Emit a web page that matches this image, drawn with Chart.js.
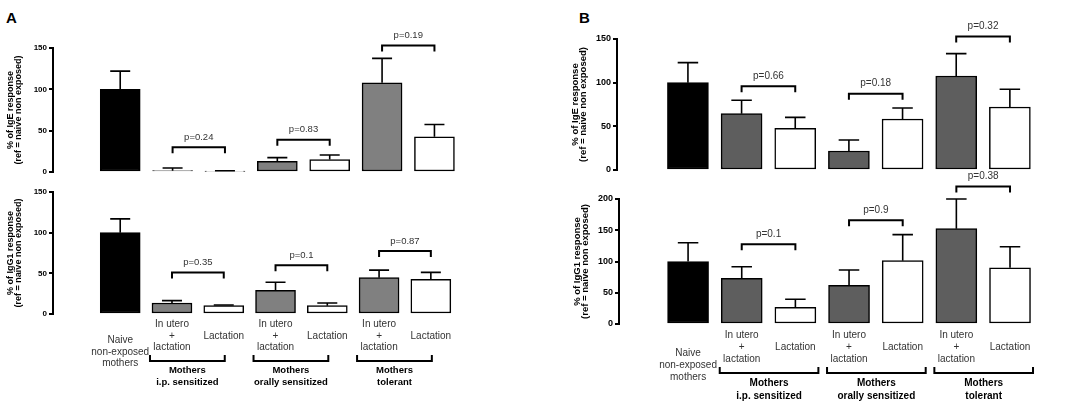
<!DOCTYPE html>
<html>
<head>
<meta charset="utf-8">
<script src="https://cdn.jsdelivr.net/npm/chart.js@4.4.1/dist/chart.umd.min.js"></script>
<style>
body{margin:0;background:#fff;width:1084px;height:408px;position:relative;overflow:hidden;font-family:"Liberation Sans",Arial,sans-serif}
canvas{position:absolute}
.tag{position:absolute;font-weight:bold;font-size:15px;line-height:1}
</style>
</head>
<body>
<div class="tag" style="left:6px;top:10px">A</div>
<div class="tag" style="left:579px;top:10px">B</div>
<canvas id="aIgE" width="540" height="180" style="left:0;top:0"></canvas>
<canvas id="aIgG1" width="540" height="228" style="left:0;top:180px"></canvas>
<canvas id="bIgE" width="544" height="180" style="left:540px;top:0"></canvas>
<canvas id="bIgG1" width="544" height="248" style="left:540px;top:160px"></canvas>
<script>
// groups on the x axis
const categories = ["Naive non-exposed mothers","In utero + lactation","Lactation","In utero + lactation","Lactation","In utero + lactation","Lactation"];
const xLabels = [["Naive","non-exposed","mothers"],["In utero","+","lactation"],["Lactation"],["In utero","+","lactation"],["Lactation"],["In utero","+","lactation"],["Lactation"]];
const groupLabels = [["Mothers","i.p. sensitized"],["Mothers","orally sensitized"],["Mothers","tolerant"]];
const pairs = [[1,2],[3,4],[5,6]];
const yTicksA = [0,50,100,150];
const yTicksB = [0,50,100,150,200];

// panel A - IgE (mean and SEM, % of naive)
const aIgE = [100, 1.6, 0.8, 12.9, 15, 108, 42.5];
const aIgESem = [22, 3.3, 0.8, 4.5, 5.6, 29.5, 15];
const aIgEP = ["p=0.24","p=0.83","p=0.19"];
const aIgEPLevel = [30, 39, 153];

// panel A - IgG1
const aIgG1 = [100, 13.5, 10.2, 29, 10.2, 44.7, 42.6];
const aIgG1Sem = [17, 3, 0.8, 10, 3.3, 9.3, 8.6];
const aIgG1P = ["p=0.35","p=0.1","p=0.87"];
const aIgG1PLevel = [51, 60, 77.5];

// panel B - IgE
const bIgE = [100, 64.5, 47.7, 21.8, 58.4, 107.6, 72.1];
const bIgESem = [23, 15.3, 12.6, 12.6, 12.6, 25.6, 20.3];
const bIgEP = ["p=0.66","p=0.18","p=0.32"];
const bIgEPLevel = [96, 87.4, 153];

// panel B - IgG1
const bIgG1 = [100, 73, 26.7, 61.9, 101.3, 152.5, 90];
const bIgG1Sem = [30, 18.7, 12.8, 24.5, 41.7, 47.5, 33.7];
const bIgG1P = ["p=0.1","p=0.9","p=0.38"];
const bIgG1PLevel = [127.5, 166, 220];

const yTitleIgE = ["% of IgE response","(ref = naive non exposed)"];
const yTitleIgG1 = ["% of IgG1 response","(ref = naive non exposed)"];

function panel(id, values, sem, pText, pLevel, s){
  const colors = [ "#000", s.gray, "#fff", s.gray, "#fff", s.gray, "#fff" ];

  const marks = {
    id: "marks",
    afterDatasetsDraw(chart){
      const ctx = chart.ctx, x = chart.scales.x, y = chart.scales.y;
      const bars = chart.getDatasetMeta(0).data;
      ctx.save();
      ctx.strokeStyle = "#000";
      ctx.fillStyle = "#333";

      // error bars, upper whisker only
      ctx.lineWidth = 1.6;
      sem.forEach((e,i) => {
        const b = bars[i];
        const top = y.getPixelForValue(values[i] + e);
        ctx.beginPath();
        ctx.moveTo(b.x, b.y); ctx.lineTo(b.x, top);
        ctx.moveTo(b.x - b.width/4, top); ctx.lineTo(b.x + b.width/4, top);
        ctx.stroke();
      });

      // p value brackets
      ctx.lineWidth = 2;
      ctx.font = s.pFont;
      ctx.textAlign = "center";
      ctx.textBaseline = "middle";
      pairs.forEach((p,k) => {
        const xa = x.getPixelForValue(p[0]), xb = x.getPixelForValue(p[1]);
        const yy = y.getPixelForValue(pLevel[k]);
        ctx.beginPath();
        ctx.moveTo(xa, yy + 6); ctx.lineTo(xa, yy); ctx.lineTo(xb, yy); ctx.lineTo(xb, yy + 6);
        ctx.stroke();
        ctx.fillText(pText[k], (xa + xb)/2, yy - 10);
      });

      if (s.labels) {
        // category labels under the bars
        ctx.font = s.xFont;
        ctx.fillStyle = "#333";
        xLabels.forEach((lines,i) => {
          const cy = i === 0 ? s.labelY + s.naiveDrop : s.labelY;
          const y0 = cy - (lines.length - 1) * s.lh / 2;
          lines.forEach((t,j) => ctx.fillText(t, x.getPixelForValue(i), y0 + j * s.lh));
        });
        // group brackets and group names
        ctx.font = s.gFont;
        ctx.fillStyle = "#000";
        pairs.forEach((p,k) => {
          const l = x.getPixelForValue(p[0]) + s.bl, r = x.getPixelForValue(p[1]) + s.br;
          ctx.beginPath();
          ctx.moveTo(l, s.brY - 6); ctx.lineTo(l, s.brY); ctx.lineTo(r, s.brY); ctx.lineTo(r, s.brY - 6);
          ctx.stroke();
          groupLabels[k].forEach((t,j) => ctx.fillText(t, (l + r)/2, s.gY + j * s.gLh));
        });
      }
      ctx.restore();
    }
  };

  const canvas = document.getElementById(id);
  new Chart(canvas, {
    type: "bar",
    data: {
      datasets: [{
        data: values.map((v,i) => ({x: i, y: v})),
        backgroundColor: colors,
        borderColor: "#000",
        borderWidth: 1.5,
        borderSkipped: false,
        barThickness: s.barW
      }]
    },
    options: {
      responsive: false,
      animation: false,
      layout: { padding: { top: s.top, bottom: canvas.height - s.bottom, right: canvas.width - s.right, left: 0 } },
      plugins: { legend: { display: false }, tooltip: { enabled: false } },
      scales: {
        x: { type: "linear", display: false, min: s.xmin, max: s.xmax },
        y: {
          min: 0, max: s.ymax,
          afterFit: sc => { sc.width = s.left; },
          afterBuildTicks: sc => { sc.ticks = s.ticks.map(v => ({value: v})); },
          border: { display: true, color: "#000", width: 2 },
          grid: { drawOnChartArea: false, drawTicks: true, tickLength: 4, color: "#000", lineWidth: 2 },
          ticks: { color: "#000", padding: 2, font: { family: "Liberation Sans", size: s.tickSize, weight: "bold" } },
          title: {
            display: true, text: s.title, color: "#000",
            font: { family: "Liberation Sans", size: s.titleSize, weight: "bold", lineHeight: 0.9 },
            padding: { top: s.titlePad, bottom: 0 }
          }
        }
      }
    },
    plugins: [marks]
  });
}

const styleA = { gray: "#808080", barW: 40, left: 53, right: 490, ymax: 150, ticks: yTicksA, tickSize: 8, titleSize: 9, titlePad: 6,
  pFont: "9.5px 'Liberation Sans'", xFont: "10px 'Liberation Sans'", gFont: "bold 9.5px 'Liberation Sans'" };
const styleB = { gray: "#5e5e5e", barW: 41, left: 77, right: 530, ymax: 150, ticks: yTicksA, tickSize: 9, titleSize: 9.5, titlePad: 31,
  pFont: "10px 'Liberation Sans'", xFont: "10px 'Liberation Sans'", gFont: "bold 10px 'Liberation Sans'" };

panel("aIgE", aIgE, aIgESem, aIgEP, aIgEPLevel,
  Object.assign({}, styleA, { title: yTitleIgE, top: 48, bottom: 172, xmin: (53-95)/61.1, xmax: (490-95)/61.1 }));
panel("aIgG1", aIgG1, aIgG1Sem, aIgG1P, aIgG1PLevel,
  Object.assign({}, styleA, { title: yTitleIgG1, top: 12, bottom: 134, xmin: (53-95)/60.4, xmax: (490-95)/60.4,
    labels: true, labelY: 156, naiveDrop: 16, lh: 11.5, bl: -22, br: 1, brY: 181, gY: 190, gLh: 12 }));
panel("bIgE", bIgE, bIgESem, bIgEP, bIgEPLevel,
  Object.assign({}, styleB, { title: yTitleIgE, top: 39, bottom: 170, xmin: (77-122)/62.6, xmax: (530-122)/62.6 }));
panel("bIgG1", bIgG1, bIgG1Sem, bIgG1P, bIgG1PLevel,
  Object.assign({}, styleB, { title: yTitleIgG1, top: 39, bottom: 164, left: 79, ymax: 200, ticks: yTicksB, titlePad: 33,
    xmin: (79-122)/62.6, xmax: (530-122)/62.6,
    labels: true, labelY: 187, naiveDrop: 18, lh: 12, bl: -22, br: 23, brY: 213, gY: 223, gLh: 13 }));
</script>
</body>
</html>
